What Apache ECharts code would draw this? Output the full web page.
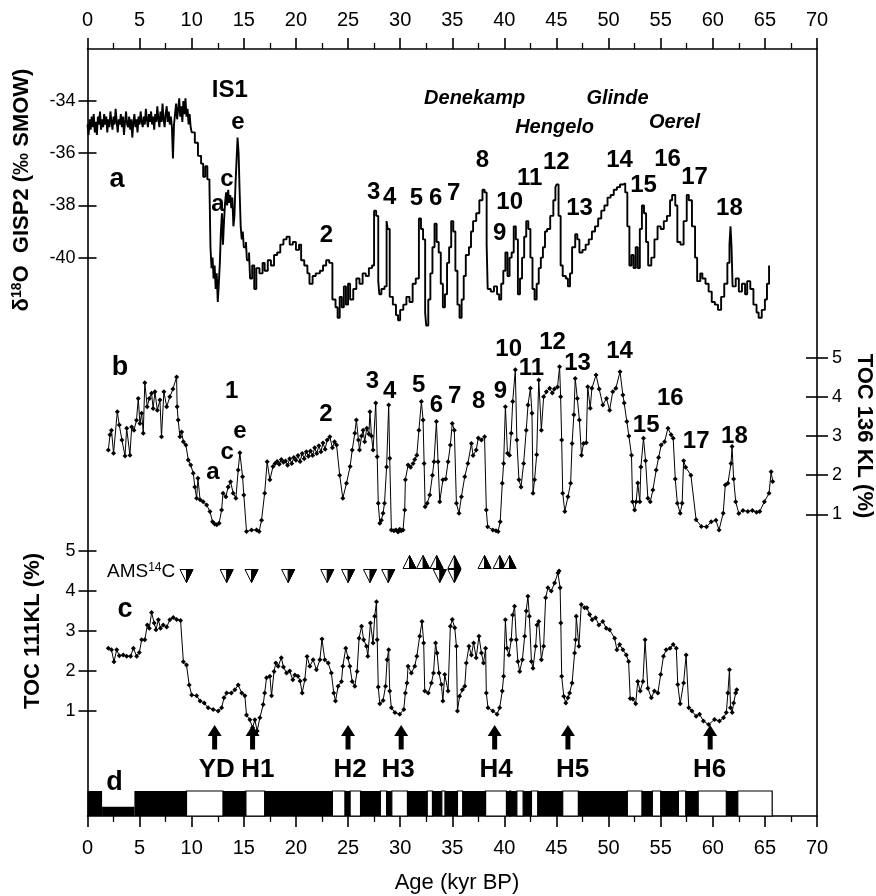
<!DOCTYPE html>
<html><head><meta charset="utf-8">
<script src="https://cdn.jsdelivr.net/npm/echarts@6/dist/echarts.min.js"></script>
<style>html,body{margin:0;padding:0;background:#fff}#c{width:876px;height:896px}</style>
</head><body><div id="c"></div>
<script>
// ---------- DATA ----------
const xTicks = [0, 5, 10, 15, 20, 25, 30, 35, 40, 45, 50, 55, 60, 65, 70];
const gispTicks = [-40, -38, -36, -34];
const tocTicks = [1, 2, 3, 4, 5];

// (a) GISP2 d18O: [age kyr, permil]
const gisp = [
[0.0,-34.9],[0.1,-35.3],[0.2,-34.7],[0.3,-35.1],[0.4,-34.6],[0.5,-35.0],[0.6,-34.5],[0.7,-35.2],[0.8,-34.8],[0.9,-35.3],
[1.0,-34.6],[1.1,-34.9],[1.2,-34.4],[1.3,-35.1],[1.4,-34.7],[1.5,-35.0],[1.6,-34.5],[1.7,-34.9],[1.8,-34.6],[1.9,-35.2],
[2.0,-34.7],[2.1,-35.0],[2.2,-34.4],[2.3,-34.8],[2.4,-35.1],[2.5,-34.6],[2.6,-34.9],[2.7,-34.3],[2.8,-34.8],[2.9,-35.2],
[3.0,-34.7],[3.1,-34.9],[3.2,-34.5],[3.3,-35.0],[3.4,-34.6],[3.5,-35.3],[3.6,-34.8],[3.7,-34.4],[3.8,-34.9],[3.9,-35.0],
[4.0,-34.6],[4.1,-35.1],[4.2,-34.7],[4.3,-35.4],[4.4,-34.8],[4.5,-34.5],[4.6,-35.0],[4.7,-34.7],[4.8,-35.2],[4.9,-34.6],
[5.0,-34.9],[5.1,-34.4],[5.2,-34.8],[5.3,-35.0],[5.4,-34.6],[5.5,-34.9],[5.6,-34.3],[5.7,-34.7],[5.8,-35.0],[5.9,-34.5],
[6.0,-34.8],[6.1,-34.4],[6.2,-34.9],[6.3,-34.6],[6.4,-35.1],[6.5,-34.5],[6.6,-34.8],[6.7,-34.2],[6.8,-34.7],[6.9,-35.0],
[7.0,-34.4],[7.1,-34.8],[7.2,-34.1],[7.3,-34.7],[7.4,-35.0],[7.5,-34.5],[7.6,-34.2],[7.7,-34.8],[7.8,-34.4],[7.9,-34.9],
[8.0,-34.6],[8.1,-35.0],[8.2,-36.2],[8.3,-34.9],[8.4,-34.5],[8.5,-34.1],[8.6,-34.7],[8.7,-34.3],[8.8,-33.9],[8.9,-34.6],
[9.0,-34.2],[9.1,-34.8],[9.2,-34.0],[9.3,-34.5],[9.4,-33.9],[9.5,-34.6],[9.6,-34.3],[9.7,-34.9],[9.8,-34.5],[9.9,-35.0],
[10.0,-35.2],[10.3,-35.6],[10.6,-36.1],[10.9,-36.4],[11.1,-36.9],[11.3,-36.5],[11.5,-37.0],[11.7,-37.2],[11.8,-39.6],[11.9,-40.4],
[12.0,-40.0],[12.1,-40.8],[12.2,-40.3],[12.3,-41.2],[12.4,-40.6],[12.5,-41.7],[12.6,-41.0],[12.7,-40.2],[12.8,-39.0],[12.9,-38.3],
[13.0,-39.5],[13.1,-38.6],[13.2,-37.9],[13.3,-37.5],[13.4,-38.0],[13.5,-37.4],[13.6,-37.9],[13.7,-37.6],[13.8,-38.1],[13.9,-37.7],
[14.0,-38.8],[14.1,-38.4],[14.2,-37.2],[14.3,-36.3],[14.4,-35.4],[14.5,-36.0],[14.6,-37.5],[14.7,-38.8],[14.8,-39.3],[14.9,-39.0],
[15.0,-39.6],[15.2,-39.4],[15.3,-40.1],[15.5,-39.8],[15.6,-40.8],[15.8,-40.3],[16.0,-41.2],[16.2,-40.4],[16.5,-40.6],[16.8,-40.2],
[17.0,-40.5],[17.3,-40.1],[17.6,-40.3],[17.9,-39.9],[18.2,-39.8],[18.5,-39.5],[18.8,-39.3],[19.1,-39.2],[19.4,-39.5],[19.7,-39.4],
[20.0,-39.7],[20.3,-39.5],[20.5,-40.1],[20.8,-40.3],[21.1,-40.6],[21.3,-41.0],[21.6,-40.7],[21.9,-40.6],[22.3,-40.5],[22.6,-40.3],
[22.9,-40.1],[23.2,-40.2],[23.5,-41.6],[23.8,-41.9],[24.0,-42.3],[24.2,-41.5],[24.4,-41.9],[24.6,-41.1],[24.8,-41.8],[25.0,-41.0],
[25.2,-41.6],[25.5,-41.2],[25.8,-40.8],[26.1,-41.0],[26.4,-40.6],[26.7,-40.7],[27.0,-40.4],[27.3,-40.3],[27.5,-38.2],[27.7,-38.4],
[27.9,-40.9],[28.0,-41.4],[28.2,-41.2],[28.5,-41.1],[28.7,-38.6],[28.8,-38.9],[29.0,-41.5],[29.3,-41.8],[29.6,-42.2],[29.8,-42.4],
[30.0,-42.0],[30.3,-41.8],[30.6,-41.5],[30.9,-41.7],[31.2,-41.0],[31.5,-40.8],[31.8,-38.5],[32.0,-38.9],[32.2,-39.3],[32.4,-42.1],
[32.5,-42.6],[32.7,-41.6],[32.9,-40.6],[33.1,-39.6],[33.3,-38.7],[33.5,-39.4],[33.7,-39.8],[33.9,-41.0],[34.1,-41.9],[34.3,-41.4],
[34.5,-40.2],[34.7,-39.6],[34.9,-38.6],[35.1,-39.0],[35.3,-40.5],[35.5,-41.8],[35.7,-42.3],[35.9,-41.6],[36.1,-40.7],[36.3,-39.9],
[36.6,-39.6],[36.8,-39.0],[37.0,-38.6],[37.3,-38.3],[37.6,-37.8],[37.9,-37.4],[38.1,-37.5],[38.3,-39.5],[38.4,-41.2],[38.7,-41.3],
[39.0,-41.1],[39.3,-41.4],[39.5,-41.6],[39.7,-41.0],[39.9,-40.5],[40.1,-39.8],[40.3,-40.7],[40.5,-40.0],[40.7,-39.8],[40.9,-38.8],
[41.1,-39.3],[41.3,-41.4],[41.5,-40.8],[41.7,-40.0],[41.9,-39.2],[42.1,-38.6],[42.3,-38.9],[42.5,-40.0],[42.7,-41.2],[42.9,-41.6],
[43.1,-41.0],[43.3,-40.4],[43.5,-40.0],[43.7,-39.6],[43.9,-39.0],[44.1,-38.9],[44.4,-38.4],[44.7,-37.8],[44.9,-37.3],[45.0,-37.2],
[45.2,-38.4],[45.4,-40.3],[45.6,-40.7],[45.9,-40.8],[46.1,-41.1],[46.3,-40.6],[46.5,-39.6],[46.8,-39.1],[47.0,-39.3],[47.2,-39.8],
[47.5,-39.7],[47.8,-39.5],[48.1,-39.3],[48.4,-39.0],[48.7,-38.8],[49.0,-38.5],[49.3,-38.2],[49.6,-38.0],[49.9,-37.7],[50.2,-37.6],
[50.5,-37.4],[50.8,-37.3],[51.1,-37.2],[51.4,-37.15],[51.6,-37.5],[51.8,-38.8],[52.0,-40.3],[52.2,-39.9],[52.4,-40.4],[52.6,-39.6],
[52.8,-40.4],[53.0,-38.9],[53.2,-38.0],[53.4,-38.3],[53.6,-39.4],[53.8,-40.3],[54.1,-40.0],[54.4,-39.3],[54.7,-38.8],[55.0,-38.9],
[55.3,-38.6],[55.6,-38.4],[55.9,-37.8],[56.1,-37.6],[56.4,-38.0],[56.6,-39.4],[56.9,-39.5],[57.2,-38.6],[57.5,-37.6],[57.7,-37.8],
[58.0,-38.8],[58.3,-40.0],[58.5,-40.9],[58.8,-40.6],[59.0,-40.8],[59.3,-41.0],[59.6,-41.3],[59.9,-41.7],[60.2,-41.8],[60.5,-42.0],
[60.8,-41.5],[61.1,-41.0],[61.4,-40.2],[61.6,-39.5],[61.7,-38.8],[61.8,-39.6],[61.9,-41.1],[62.2,-40.8],[62.5,-41.3],[62.8,-41.0],
[63.1,-41.4],[63.3,-40.9],[63.6,-41.2],[63.9,-41.8],[64.2,-42.1],[64.4,-42.3],[64.7,-42.0],[65.0,-41.6],[65.2,-41.0],[65.4,-40.3]
];

// (b) TOC 136KL (%)
const toc136 = [
[2.0,2.64],[2.16,3.03],[2.3,3.15],[2.5,2.56],[2.86,3.62],[3.05,3.28],[3.3,2.9],[3.6,2.49],[3.76,3.2],[4.07,2.51],
[4.24,3.23],[4.46,3.15],[4.7,3.4],[4.87,3.96],[5.03,3.32],[5.2,3.58],[5.35,3.07],[5.5,4.36],[5.73,3.75],[5.93,3.96],
[6.15,4.09],[6.3,3.7],[6.47,4.13],[6.7,3.66],[6.95,3.92],[7.1,2.98],[7.33,4.13],[7.6,3.75],[7.9,4.0],[8.2,4.2],
[8.55,4.51],[8.6,3.75],[8.7,3.41],[8.87,2.98],[9.03,3.1],[9.2,2.85],[9.44,2.77],[9.67,2.39],[9.9,2.26],[10.15,2.05],
[10.3,1.7],[10.47,1.41],[10.6,1.92],[10.8,1.37],[11.1,1.32],[11.43,1.24],[11.75,1.07],[12.0,0.81],[12.2,0.75],[12.4,0.73],
[12.63,0.77],[12.87,1.11],[13.0,1.54],[13.28,1.45],[13.5,1.7],[13.73,1.83],[13.98,1.54],[14.24,1.41],[14.46,2.13],[14.62,2.57],
[14.88,1.96],[15.0,1.49],[15.26,0.56],[15.74,0.6],[16.22,0.6],[16.47,0.56],[16.7,0.85],[17.0,1.54],[17.24,2.34],[17.5,1.88],
[17.8,2.22],[18.0,2.3],[18.2,2.35],[18.4,2.28],[18.6,2.4],[18.8,2.33],[19.0,2.36],[19.2,2.25],[19.4,2.42],[19.6,2.3],
[19.8,2.45],[20.0,2.38],[20.2,2.5],[20.4,2.35],[20.6,2.55],[20.8,2.42],[21.0,2.6],[21.2,2.48],[21.4,2.62],[21.6,2.5],
[21.8,2.7],[22.0,2.55],[22.2,2.75],[22.4,2.6],[22.6,2.82],[22.8,2.66],[23.0,2.9],[23.25,2.98],[23.5,2.7],[23.7,2.85],
[23.9,2.77],[24.2,2.0],[24.5,1.41],[24.85,1.79],[25.2,2.22],[25.4,2.64],[25.65,3.07],[25.8,3.41],[26.0,2.9],[26.1,2.64],
[26.3,3.0],[26.45,3.15],[26.6,2.85],[26.8,3.2],[27.0,3.05],[27.1,3.62],[27.25,3.0],[27.4,2.64],[27.66,3.84],[27.8,2.47],
[27.9,1.28],[28.05,0.77],[28.2,0.85],[28.36,1.03],[28.5,1.28],[28.7,2.21],[28.9,3.79],[29.0,2.43],[29.16,0.6],[29.4,0.58],
[29.6,0.6],[29.8,0.55],[29.96,0.62],[30.1,0.58],[30.28,0.6],[30.44,1.11],[30.5,1.88],[30.76,2.26],[31.0,2.2],[31.24,2.3],
[31.4,2.4],[31.6,2.51],[31.8,3.15],[32.04,3.88],[32.2,3.41],[32.3,2.3],[32.4,1.19],[32.6,1.28],[32.84,1.49],[33.1,2.0],
[33.25,2.34],[33.48,3.37],[33.64,2.34],[33.8,1.32],[34.1,1.88],[34.37,1.9],[34.6,2.34],[34.82,2.77],[35.0,3.32],[35.2,3.15],
[35.4,1.28],[35.65,1.03],[35.88,1.45],[36.2,1.96],[36.5,2.3],[36.84,2.81],[37.0,2.5],[37.3,2.64],[37.5,2.95],[37.8,2.9],
[38.1,2.98],[38.27,1.11],[38.4,0.68],[38.9,0.6],[39.2,0.58],[39.4,0.56],[39.6,0.81],[39.8,1.79],[39.93,2.3],[40.1,3.75],
[40.3,2.56],[40.5,2.51],[40.66,3.07],[40.8,3.88],[41.05,4.69],[41.2,2.9],[41.4,1.88],[41.6,1.7],[41.85,2.3],[42.1,3.15],
[42.27,3.79],[42.5,4.22],[42.65,3.58],[42.75,1.54],[42.9,1.88],[43.1,2.52],[43.3,4.43],[43.55,3.15],[43.77,4.0],[44.03,4.13],
[44.35,4.22],[44.6,4.1],[44.8,4.2],[45.1,4.25],[45.3,4.77],[45.4,4.0],[45.5,2.9],[45.6,1.54],[45.8,1.07],[46.1,1.45],
[46.36,1.79],[46.5,2.81],[46.67,3.54],[46.8,4.47],[47.0,3.96],[47.2,3.41],[47.4,2.51],[47.6,2.81],[47.86,2.83],[48.0,4.26],
[48.24,3.71],[48.4,4.22],[48.8,4.56],[49.1,4.2],[49.45,3.79],[49.8,3.96],[50.1,3.66],[50.4,4.13],[50.7,4.22],[51.1,4.64],
[51.37,4.05],[51.5,3.84],[51.75,3.37],[51.95,3.0],[52.2,2.51],[52.3,1.32],[52.5,1.11],[52.65,1.32],[52.8,1.8],[53.0,1.32],
[53.1,2.21],[53.35,2.94],[53.55,2.37],[53.77,1.41],[54.0,1.32],[54.25,1.62],[54.57,2.13],[54.8,2.45],[55.05,2.77],[55.37,2.85],
[55.7,3.2],[56.0,3.03],[56.2,2.94],[56.4,1.9],[56.6,1.28],[56.87,1.03],[57.06,1.28],[57.2,2.37],[57.4,2.2],[57.9,2.0],
[58.4,0.86],[58.9,0.69],[59.4,0.68],[59.85,0.81],[60.3,0.85],[60.6,0.6],[61.0,1.03],[61.2,1.75],[61.45,1.79],[61.75,2.3],
[61.85,2.73],[62.0,1.9],[62.2,1.32],[62.5,1.02],[62.9,1.1],[63.36,1.07],[63.8,1.1],[64.2,1.05],[64.5,1.07],[64.95,1.32],
[65.4,1.54],[65.6,2.09],[65.75,1.84]
];

// (c) TOC 111KL (%)
const toc111 = [
[2.0,2.57],[2.3,2.53],[2.54,2.23],[2.8,2.53],[3.05,2.38],[3.43,2.4],[3.76,2.37],[4.14,2.37],[4.4,2.57],[4.72,2.37],
[4.97,2.46],[5.2,2.78],[5.5,2.78],[5.74,3.15],[5.93,3.07],[6.15,3.46],[6.4,3.2],[6.57,3.03],[6.8,3.28],[7.0,3.07],
[7.27,3.15],[7.6,3.1],[7.9,3.28],[8.23,3.34],[8.55,3.29],[8.93,3.26],[9.2,2.23],[9.5,2.15],[9.76,1.65],[10.0,1.4],
[10.47,1.38],[10.8,1.25],[11.2,1.2],[11.58,1.08],[12.06,1.04],[12.54,1.0],[12.87,1.08],[13.1,1.33],[13.35,1.45],[13.8,1.45],
[14.14,1.53],[14.46,1.65],[14.8,1.45],[15.1,1.38],[15.26,0.9],[15.58,0.78],[15.84,0.58],[16.06,0.78],[16.28,0.5],[16.54,0.83],
[16.86,1.16],[17.0,1.45],[17.18,1.83],[17.5,1.87],[17.66,1.38],[17.9,1.99],[18.07,2.2],[18.3,2.12],[18.6,2.33],[18.8,2.1],
[19.1,1.95],[19.4,2.0],[19.7,1.78],[19.9,1.9],[20.2,1.87],[20.4,1.75],[20.6,1.45],[20.85,1.78],[21.07,2.36],[21.33,2.12],
[21.65,2.28],[21.97,2.03],[22.3,2.28],[22.5,2.8],[22.77,2.28],[23.1,2.2],[23.4,1.95],[23.63,1.45],[23.8,1.25],[24.05,1.62],
[24.37,1.74],[24.5,2.12],[24.78,2.57],[25.0,2.33],[25.17,2.12],[25.4,1.74],[25.65,1.62],[25.87,1.99],[26.06,2.82],[26.3,3.12],
[26.5,2.78],[26.77,2.62],[26.9,2.37],[27.15,3.2],[27.4,2.7],[27.56,3.37],[27.73,3.73],[27.8,2.78],[27.9,1.6],[28.05,1.18],
[28.36,1.26],[28.6,1.62],[28.75,2.28],[28.9,2.53],[29.0,1.5],[29.16,1.08],[29.5,0.96],[29.96,0.92],[30.35,1.04],[30.5,1.45],
[30.66,1.7],[30.76,2.12],[31.08,1.95],[31.4,2.12],[31.6,2.37],[31.88,2.87],[32.1,3.24],[32.26,2.7],[32.36,1.5],[32.7,1.45],
[33.0,1.7],[33.2,1.95],[33.4,2.7],[33.54,2.45],[33.73,1.95],[33.96,1.66],[34.1,1.25],[34.28,1.91],[34.6,1.5],[34.82,3.12],
[35.0,3.29],[35.24,3.08],[35.4,2.62],[35.5,1.0],[35.7,1.37],[35.97,1.53],[36.2,1.62],[36.35,2.2],[36.6,2.62],[36.84,2.4],
[37.05,2.7],[37.3,2.33],[37.56,2.87],[37.8,2.45],[38.0,2.2],[38.2,2.57],[38.27,1.45],[38.43,1.08],[38.9,1.0],[39.3,0.92],
[39.55,1.08],[39.8,1.5],[39.93,1.87],[40.1,3.28],[40.25,2.57],[40.44,2.4],[40.66,2.78],[40.8,3.4],[40.98,3.62],[41.15,2.78],
[41.3,2.24],[41.47,1.99],[41.73,2.28],[41.95,2.87],[42.1,3.5],[42.26,3.87],[42.4,3.37],[42.6,2.24],[42.75,2.07],[43.0,2.62],
[43.13,3.15],[43.3,3.24],[43.55,2.28],[43.77,2.62],[43.96,3.83],[44.18,4.08],[44.5,4.0],[44.82,4.2],[45.14,4.45],[45.25,4.5],
[45.35,4.08],[45.42,3.2],[45.5,1.87],[45.7,1.37],[45.9,1.2],[46.1,1.33],[46.26,1.45],[46.5,1.7],[46.74,2.45],[46.84,2.78],
[46.9,3.37],[47.15,2.62],[47.38,3.66],[47.7,3.58],[47.92,3.58],[48.18,3.41],[48.43,3.28],[48.75,3.33],[49.07,3.15],[49.45,3.24],
[49.78,3.07],[50.1,3.03],[50.58,2.82],[50.8,2.53],[51.06,2.66],[51.37,2.53],[51.7,2.4],[51.92,2.24],[52.08,1.31],[52.33,1.3],
[52.6,1.18],[52.8,1.74],[53.04,1.5],[53.3,1.74],[53.5,2.78],[53.77,1.57],[54.1,1.33],[54.4,1.5],[54.73,1.45],[55.0,1.91],
[55.27,2.37],[55.53,2.53],[55.9,2.57],[56.2,2.66],[56.5,2.57],[56.64,1.66],[56.87,1.18],[57.2,1.7],[57.44,2.4],[57.7,1.08],
[58.0,1.0],[58.4,0.87],[58.73,0.92],[59.1,0.75],[59.6,0.66],[60.17,0.79],[60.64,0.75],[61.03,0.83],[61.3,0.96],[61.45,1.45],
[61.6,2.03],[61.7,1.08],[61.86,0.96],[62.0,1.2],[62.2,1.45],[62.3,1.53]
];

// (d) zone bar: black background, white intervals
const barBlackFull = [[0, 1.4], [4.5, 65.7]];
const barBlackLow = [[1.4, 4.5]];
const barWhite = [[9.5,13.0],[15.2,17.0],[23.5,24.7],[25.2,26.2],[28.1,28.7],[29.2,30.7],[32.6,33.1],[34.0,34.3],[35.5,36.0],
  [38.2,40.2],[40.5,40.6],[41.2,41.8],[42.6,43.2],[45.6,47.1],[51.8,53.2],[54.2,55.0],[56.7,57.4],[58.6,61.3],[62.4,65.7]];

// AMS 14C dating points
const amsDownAges = [9.5, 13.35, 15.74, 19.25, 23.0, 25.0, 27.1, 28.85, 33.8, 35.2];
const amsUpAges = [30.9, 32.2, 33.5, 35.2, 38.1, 39.55, 40.5];

// Heinrich events
const hArrowAges = [12.2, 15.84, 25.0, 30.1, 39.07, 46.1, 59.75];
const hLabelAges = [12.4, 16.35, 25.2, 29.8, 39.2, 46.55, 59.7];
const hLabels = ['YD', 'H1', 'H2', 'H3', 'H4', 'H5', 'H6'];

// Annotations [age, value, text]
const annotA = [[13.66,-33.58,'IS1'],[14.43,-34.8,'e'],[13.37,-36.99,'c'],[12.51,-37.95,'a'],
  [22.93,-39.13,'2'],[27.47,-37.49,'3'],[29.0,-37.68,'4'],[31.56,-37.72,'5'],[33.41,-37.72,'6'],[35.14,-37.52,'7'],
  [37.89,-36.26,'8'],[39.55,-39.06,'9'],[40.51,-37.87,'10'],[42.43,-36.95,'11'],[44.99,-36.34,'12'],[47.22,-38.1,'13'],
  [51.05,-36.26,'14'],[53.35,-37.22,'15'],[55.66,-36.22,'16'],[58.25,-36.91,'17'],[61.6,-38.1,'18']];
const stadialNames = [[37.15,-33.89,'Denekamp'],[44.82,-35.03,'Hengelo'],[50.86,-33.89,'Glinde'],[56.33,-34.84,'Oerel']];
const annotB = [[13.83,4.13,'1'],[14.62,3.11,'e'],[13.4,2.57,'c'],[12.03,2.06,'a'],
  [22.87,3.54,'2'],[27.34,4.39,'3'],[29.0,4.13,'4'],[31.78,4.3,'5'],[33.48,3.79,'6'],[35.23,4.0,'7'],
  [37.54,3.88,'8'],[39.62,4.13,'9'],[40.41,5.2,'10'],[42.59,4.73,'11'],[44.63,5.38,'12'],[47.03,4.86,'13'],
  [51.05,5.15,'14'],[53.61,3.28,'15'],[55.92,3.97,'16'],[58.41,2.85,'17'],[62.08,2.98,'18']];
const panelLetters = [[2.83,-36.99,'a'],[3.12,4.74,'b'],[3.6,3.53,'c'],[2.6,-0.78,'d']];

// ---------- CHART ----------
const FONT = '"Liberation Sans", Arial, Helvetica, sans-serif';
const BLACK = '#000';
const chart = echarts.init(document.getElementById('c'), null, {renderer: 'canvas'});

const L = 87.5, R = 876 - 817;
function hiddenX(g) { return {gridIndex: g, type: 'value', min: 0, max: 70, show: false}; }
function textSeries(xi, yi, arr, font, extra) {
  return {
    type: 'custom', xAxisIndex: xi, yAxisIndex: yi, clip: false, silent: true, z: 10,
    data: arr.map(d => [d[0], d[1]]),
    renderItem: function (params, api) {
      const p = api.coord([api.value(0), api.value(1)]);
      return {type: 'text', x: p[0], y: p[1],
        style: Object.assign({text: arr[params.dataIndex][2], font: font, fill: BLACK,
          align: 'center', verticalAlign: 'middle', textAlign: 'center', textVerticalAlign: 'middle'}, extra || {})};
    }
  };
}
const lineSt = {color: BLACK, width: 1.6};

const option = {
  animation: false,
  backgroundColor: '#fff',
  grid: [
    {left: L, right: R, top: 49, bottom: 896 - 816},   // 0 frame
    {left: L, right: R, top: 74.9, height: 261.1},     // 1 panel a
    {left: L, right: R, top: 318.55, height: 234.9},   // 2 panel b
    {left: L, right: R, top: 511, height: 240},        // 3 panel c
    {left: L, right: R, top: 791, height: 25}          // 4 panel d
  ],
  xAxis: [
    {gridIndex: 0, type: 'value', position: 'top', min: 0, max: 70, interval: 5,
      axisLine: {onZero: false, lineStyle: lineSt},
      axisTick: {length: 11, lineStyle: lineSt},
      minorTick: {show: true, splitNumber: 2, length: 6, lineStyle: {color: BLACK, width: 1.3}},
      axisLabel: {fontSize: 20, color: BLACK, margin: 19, fontFamily: FONT},
      splitLine: {show: false}},
    {gridIndex: 0, type: 'value', position: 'bottom', min: 0, max: 70, interval: 5,
      axisLine: {onZero: false, lineStyle: lineSt},
      axisTick: {length: 11, lineStyle: lineSt},
      minorTick: {show: true, splitNumber: 2, length: 6, lineStyle: {color: BLACK, width: 1.3}},
      axisLabel: {fontSize: 20, color: BLACK, margin: 22, fontFamily: FONT},
      splitLine: {show: false}},
    hiddenX(1), hiddenX(2), hiddenX(3), hiddenX(4)
  ],
  yAxis: [
    {gridIndex: 0, type: 'value', position: 'left', min: 0, max: 1,
      axisLine: {show: true, onZero: false, lineStyle: lineSt}, axisTick: {show: false},
      axisLabel: {show: false}, splitLine: {show: false}},
    {gridIndex: 0, type: 'value', position: 'right', min: 0, max: 1,
      axisLine: {show: true, onZero: false, lineStyle: lineSt}, axisTick: {show: false},
      axisLabel: {show: false}, splitLine: {show: false}},
    {gridIndex: 1, type: 'value', position: 'left', min: -43, max: -33, offset: -9,
      axisLine: {show: false, onZero: false},
      axisTick: {show: true, length: 18, customValues: gispTicks, lineStyle: lineSt},
      axisLabel: {show: true, customValues: gispTicks, margin: 21, fontSize: 18, color: BLACK, fontFamily: FONT},
      splitLine: {show: false}},
    {gridIndex: 2, type: 'value', position: 'right', min: 0, max: 6, offset: -11,
      axisLine: {show: false, onZero: false},
      axisTick: {show: true, length: 22, customValues: tocTicks, lineStyle: lineSt},
      axisLabel: {show: true, customValues: tocTicks, margin: 26, fontSize: 18, color: BLACK, fontFamily: FONT},
      splitLine: {show: false}},
    {gridIndex: 3, type: 'value', position: 'left', min: 0, max: 6, offset: -9,
      axisLine: {show: false, onZero: false},
      axisTick: {show: true, length: 18, customValues: tocTicks, lineStyle: lineSt},
      axisLabel: {show: true, customValues: tocTicks, margin: 21, fontSize: 18, color: BLACK, fontFamily: FONT},
      splitLine: {show: false}},
    {gridIndex: 4, type: 'value', min: 0, max: 1, show: false}
  ],
  graphic: [
    {type: 'text', x: 22, y: 190, rotation: Math.PI / 2,
      style: {text: '{n|δ}{s|18}{n|O  GISP2 (‰ SMOW)}', fill: BLACK, align: 'center', verticalAlign: 'middle',
        textAlign: 'center', textVerticalAlign: 'middle',
        rich: {n: {font: 'bold 22px ' + FONT, fill: BLACK}, s: {font: 'bold 14px ' + FONT, fill: BLACK, padding: [0, 0, 10, 0]}}}},
    {type: 'text', x: 864, y: 436, rotation: -Math.PI / 2,
      style: {text: 'TOC 136 KL (%)', font: 'bold 22px ' + FONT, fill: BLACK, align: 'center', verticalAlign: 'middle',
        textAlign: 'center', textVerticalAlign: 'middle'}},
    {type: 'text', x: 33, y: 631, rotation: Math.PI / 2,
      style: {text: 'TOC 111KL (%)', font: 'bold 22px ' + FONT, fill: BLACK, align: 'center', verticalAlign: 'middle',
        textAlign: 'center', textVerticalAlign: 'middle'}},
    {type: 'text', x: 457, y: 883,
      style: {text: 'Age (kyr BP)', font: '22px ' + FONT, fill: BLACK, align: 'center', verticalAlign: 'middle',
        textAlign: 'center', textVerticalAlign: 'middle'}}
  ],
  series: [
    {type: 'line', xAxisIndex: 2, yAxisIndex: 2, data: gisp, step: 'end', showSymbol: false,
      lineStyle: {color: BLACK, width: 1.9}, silent: true},
    {type: 'line', xAxisIndex: 3, yAxisIndex: 3, data: toc136, symbol: 'diamond', symbolSize: 5,
      lineStyle: {color: BLACK, width: 1}, itemStyle: {color: BLACK}, silent: true},
    {type: 'line', xAxisIndex: 4, yAxisIndex: 4, data: toc111, symbol: 'diamond', symbolSize: 5,
      lineStyle: {color: BLACK, width: 1}, itemStyle: {color: BLACK}, silent: true},
    // panel d bar
    {type: 'custom', xAxisIndex: 5, yAxisIndex: 5, clip: false, silent: true,
      data: [0],
      renderItem: function (params, api) {
        const kids = [];
        function rect(a, b, y0, y1, fill, stroke) {
          const p0 = api.coord([a, y1]), p1 = api.coord([b, y0]);
          kids.push({type: 'rect', shape: {x: p0[0], y: p0[1], width: p1[0] - p0[0], height: p1[1] - p0[1]},
            style: {fill: fill, stroke: stroke || null, lineWidth: stroke ? 1.2 : 0}});
        }
        barBlackFull.forEach(s => rect(s[0], s[1], 0, 1, BLACK));
        barBlackLow.forEach(s => rect(s[0], s[1], 0, 0.37, BLACK));
        barWhite.forEach(s => rect(s[0], s[1], 0, 1, '#fff', BLACK));
        return {type: 'group', children: kids};
      }},
    // AMS 14C triangles
    {type: 'custom', xAxisIndex: 4, yAxisIndex: 4, clip: false, silent: true, z: 5,
      data: amsDownAges.map(a => [a, 4.375, 0]).concat(amsUpAges.map(a => [a, 4.725, 1])),
      renderItem: function (params, api) {
        const p = api.coord([api.value(0), api.value(1)]);
        const up = api.value(2) === 1, h = 6.5, cx = p[0], cy = p[1];
        let outline, half;
        if (up) {
          outline = [[cx - h, cy + h], [cx + h, cy + h], [cx, cy - h]];
          half = [[cx, cy - h], [cx + h, cy + h], [cx, cy + h]];
        } else {
          outline = [[cx - h, cy - h], [cx + h, cy - h], [cx, cy + h]];
          half = [[cx, cy - h], [cx + h, cy - h], [cx, cy + h]];
        }
        return {type: 'group', children: [
          {type: 'polygon', shape: {points: outline}, style: {fill: '#fff', stroke: BLACK, lineWidth: 1}},
          {type: 'polygon', shape: {points: half}, style: {fill: BLACK, stroke: BLACK, lineWidth: 1}}
        ]};
      }},
    // Heinrich arrows
    {type: 'custom', xAxisIndex: 4, yAxisIndex: 4, clip: false, silent: true,
      data: hArrowAges.map(a => [a]),
      renderItem: function (params, api) {
        const t = api.coord([api.value(0), 0.65]), b = api.coord([api.value(0), 0.04]);
        const x = t[0], hw = 7, hh = 11, sw = 2.5;
        return {type: 'polygon', shape: {points: [[x, t[1]], [x + hw, t[1] + hh], [x + sw, t[1] + hh], [x + sw, b[1]],
          [x - sw, b[1]], [x - sw, t[1] + hh], [x - hw, t[1] + hh]]}, style: {fill: BLACK}};
      }},
    textSeries(4, 4, hLabelAges.map((a, i) => [a, -0.48, hLabels[i]]), 'bold 26px ' + FONT),
    textSeries(2, 2, annotA, 'bold 24px ' + FONT),
    textSeries(2, 2, stadialNames, 'italic bold 20px ' + FONT),
    textSeries(3, 3, annotB, 'bold 24px ' + FONT),
    textSeries(4, 4, [panelLetters[2], panelLetters[3]], 'bold 27px ' + FONT),
    textSeries(2, 2, [panelLetters[0]], 'bold 27px ' + FONT),
    textSeries(3, 3, [panelLetters[1]], 'bold 27px ' + FONT),
    // AMS14C label
    textSeries(4, 4, [[1.87, 4.48, '{n|AMS}{s|14}{n|C}']], '19px ' + FONT,
      {align: 'left', textAlign: 'left', rich: {n: {font: '19px ' + FONT, fill: BLACK}, s: {font: '12px ' + FONT, fill: BLACK, padding: [0, 0, 9, 0]}}})
  ]
};
chart.setOption(option);
</script>
</body></html>
